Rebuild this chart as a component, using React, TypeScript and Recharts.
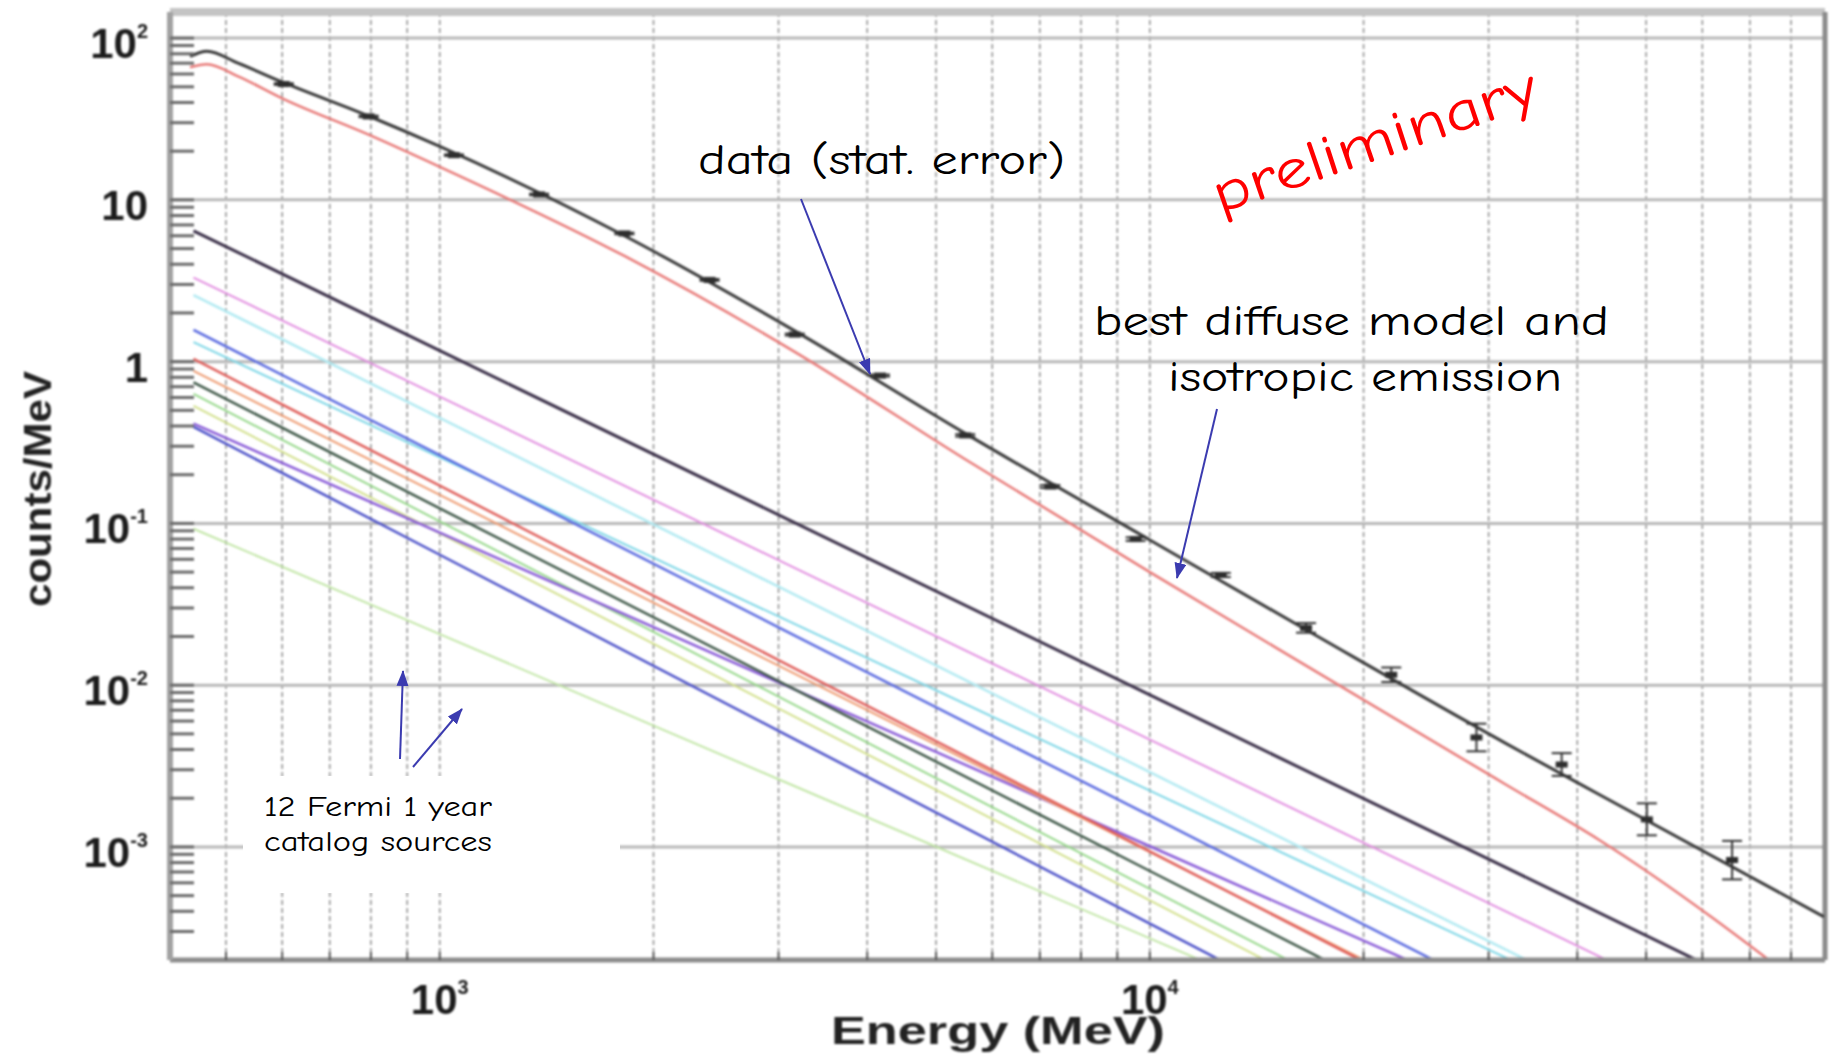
import React from "react"
import {
  ComposedChart,
  Line,
  Scatter,
  ErrorBar,
  XAxis,
  YAxis,
  CartesianGrid,
  ReferenceLine,
} from "recharts"

// measured counts per energy bin (MeV) with statistical errors
const ENERGY_BINS = [603, 794, 1047, 1380, 1820, 2399, 3162, 4169, 5495, 7244, 9550, 12589, 16596, 21878, 28840, 38019, 50119, 66069]
const COUNTS = [52, 32.8, 18.9, 10.8, 6.2, 3.2, 1.47, 0.82, 0.35, 0.169, 0.08, 0.048, 0.0226, 0.0116, 0.00475, 0.00323, 0.00148, 0.00083]
const ERR_LOW = [0.6, 0.35, 0.2, 0.12, 0.07, 0.04, 0.02, 0.012, 0.006, 0.0035, 0.002, 0.0014, 0.0015, 0.00114, 0.00085, 0.00048, 0.0003, 0.0002]
const ERR_HIGH = [0.6, 0.35, 0.2, 0.12, 0.07, 0.04, 0.02, 0.012, 0.006, 0.0035, 0.002, 0.0014, 0.0016, 0.00126, 0.00103, 0.00057, 0.00038, 0.00026]

// total fitted model and diffuse + isotropic component
const MODEL_ENERGY = [445, 470, 520, 603, 794, 1000, 1820, 3162, 5495, 10000, 16596, 31623, 43000, 89000]
const TOTAL_MODEL = [77, 83, 70, 53, 33, 21.4, 6.0, 1.55, 0.36, 0.079, 0.022, 0.0044, 0.0021, 0.00037]
const DIFFUSE_MODEL = [66, 69, 58, 42, 25.3, 16.0, 4.5, 1.15, 0.249, 0.05, 0.0132, 0.00245, 0.0011, 0.00011]

// catalog point sources, sampled at the same energies
const SOURCE_ENERGY = [450, 1000, 3000, 10000, 30000, 90000]
const SRC_BRIGHT = [6.44, 1.17, 0.113, 0.0087, 0.00084, 0.000081]
const SRC_MAGENTA = [3.31, 0.608, 0.0593, 0.00461, 0.00045, 0.0000439]
const SRC_LIGHTCYAN = [2.58, 0.449, 0.0406, 0.0029, 0.000262, 0.0000236]
const SRC_BLUE = [1.57, 0.264, 0.0228, 0.00156, 0.000134, 0.0000116]
const SRC_CYAN = [1.32, 0.256, 0.0266, 0.00223, 0.000232, 0.0000241]
const SRC_RED = [1.04, 0.171, 0.0143, 0.00094, 0.000078, 0.0000065]
const SRC_ORANGE = [0.877, 0.15, 0.0132, 0.00093, 0.000082, 0.0000072]
const SRC_DARKGREEN = [0.745, 0.124, 0.0106, 0.00071, 0.000061, 0.0000052]
const SRC_GREEN = [0.631, 0.103, 0.0085, 0.00055, 0.000046, 0.0000038]
const SRC_OLIVE = [0.533, 0.0869, 0.00718, 0.000467, 0.0000385, 0.0000032]
const SRC_PURPLE = [0.414, 0.0877, 0.0104, 0.00101, 0.00012, 0.0000142]
const SRC_INDIGO = [0.395, 0.064, 0.00522, 0.000336, 0.0000274, 0.0000022]
const SRC_PALEGREEN = [0.0927, 0.0207, 0.00262, 0.000272, 0.0000345, 0.0000044]

const SOURCES = [
  { values: SRC_PALEGREEN, color: "#c2e6a6", width: 2 },
  { values: SRC_OLIVE, color: "#d2e08c", width: 2 },
  { values: SRC_GREEN, color: "#96d88a", width: 2 },
  { values: SRC_LIGHTCYAN, color: "#b2eaf2", width: 2.5 },
  { values: SRC_CYAN, color: "#7cd6e6", width: 2 },
  { values: SRC_MAGENTA, color: "#e28ee0", width: 2 },
  { values: SRC_PURPLE, color: "#8a5cd8", width: 2.5 },
  { values: SRC_ORANGE, color: "#ee9a70", width: 2 },
  { values: SRC_RED, color: "#e0605c", width: 2.5 },
  { values: SRC_BLUE, color: "#5a6ae0", width: 2.5 },
  { values: SRC_INDIGO, color: "#4b50c8", width: 2.5 },
  { values: SRC_DARKGREEN, color: "#3f5848", width: 2.5 },
  { values: SRC_BRIGHT, color: "#3a2f48", width: 3 },
]

const X_DOMAIN = [417, 89300]
const Y_DOMAIN = [0.0002, 145]
const X_TICKS = [500, 600, 700, 800, 900, 1000, 2000, 3000, 4000, 5000, 6000, 7000, 8000, 9000, 10000, 20000, 30000, 40000, 50000, 60000, 70000, 80000]
const X_LABELED = [1000, 10000]
const Y_DECADES = [0.0001, 0.001, 0.01, 0.1, 1, 10, 100]
const Y_STEPS = [1, 2, 3, 4, 5, 6, 7, 8, 9]

const yTicks = Y_DECADES.flatMap((d) => Y_STEPS.map((m) => m * d)).filter(
  (v) => v > Y_DOMAIN[0] * 1.01 && v < Y_DOMAIN[1]
)

const rows = (xs: number[], ys: number[]) => xs.map((e, i) => ({ e, v: ys[i] }))

const dataPoints = ENERGY_BINS.map((e, i) => ({ e, v: COUNTS[i], err: [ERR_LOW[i], ERR_HIGH[i]] }))

const TICK_FONT = "'Liberation Sans', Arial, sans-serif"
const NOTE_FONT = "'Comic Sans MS', 'Comic Neue', 'Noto Sans', sans-serif"

const powerLabel = (v: number) => {
  const exp = Math.round(Math.log10(v))
  if (exp === 0) return { base: "1", exp: "" }
  if (exp === 1) return { base: "10", exp: "" }
  return { base: "10", exp: String(exp) }
}

const isDecade = (v: number) => Math.abs(Math.log10(v) - Math.round(Math.log10(v))) < 1e-6

const YTick = (props: any) => {
  const { x, y, payload } = props
  const v = payload.value
  const major = isDecade(v)
  const lbl = powerLabel(v)
  return (
    <g>
      <line x1={x} x2={x + 24} y1={y} y2={y} stroke="#6a6a6a" strokeWidth={3} />
      {major && (
        <text x={x - 22} y={y + 20} textAnchor="end" fontFamily={TICK_FONT} fontWeight="bold" fontSize={42} fill="#1c1c1c">
          {lbl.base}
          {lbl.exp && (
            <tspan dy={-20} fontSize={20}>
              {lbl.exp}
            </tspan>
          )}
        </text>
      )}
    </g>
  )
}

const XTick = (props: any) => {
  const { x, y, payload } = props
  const v = payload.value
  const lbl = powerLabel(v)
  return (
    <g>
      <line x1={x} x2={x} y1={y} y2={y - 8} stroke="#555" strokeWidth={2} />
      {X_LABELED.includes(v) && (
        <text x={x} y={y + 54} textAnchor="middle" fontFamily={TICK_FONT} fontWeight="bold" fontSize={42} fill="#1c1c1c">
          {lbl.base}
          <tspan dy={-20} fontSize={20}>
            {lbl.exp}
          </tspan>
        </text>
      )}
    </g>
  )
}

const DataMark = (props: any) => {
  const { cx, cy } = props
  return <rect x={cx - 6} y={cy - 3} width={12} height={6} fill="#2e2e2e" />
}

const Arrow = ({ x1, y1, x2, y2 }: { x1: number; y1: number; x2: number; y2: number }) => (
  <line x1={x1} y1={y1} x2={x2} y2={y2} stroke="#3b3bb0" strokeWidth={2} markerEnd="url(#noteHead)" />
)

export default function App() {
  return (
    <div style={{ position: "fixed", left: 0, top: 0, width: 1831, height: 1056, background: "#fff", overflow: "hidden" }}>
      <div style={{ position: "absolute", left: 0, top: 0, filter: "blur(0.8px)" }}>
        <ComposedChart width={1831} height={1056} margin={{ top: 12, right: 6, bottom: 0, left: 0 }}>
          <CartesianGrid horizontal={false} stroke="#8e8e8e" strokeWidth={1.5} strokeDasharray="5 3" />
          {Y_DECADES.filter((d) => d > Y_DOMAIN[0] && d < Y_DOMAIN[1]).map((d) => (
            <ReferenceLine key={d} y={d} stroke="#b8b8b8" strokeWidth={3} />
          ))}
          <ReferenceLine y={Y_DOMAIN[1]} stroke="#c4c4c4" strokeWidth={8} />
          <ReferenceLine x={X_DOMAIN[1]} stroke="#8a8a8a" strokeWidth={5} />
          <XAxis
            dataKey="e"
            type="number"
            scale="log"
            domain={X_DOMAIN}
            allowDataOverflow
            ticks={X_TICKS}
            interval={0}
            tickSize={0}
            tickMargin={0}
            tick={<XTick />}
            height={96}
            axisLine={{ stroke: "#8c8c8c", strokeWidth: 5 }}
          />
          <YAxis
            type="number"
            scale="log"
            domain={Y_DOMAIN}
            allowDataOverflow
            ticks={yTicks}
            interval={0}
            tickSize={0}
            tickMargin={0}
            tick={<YTick />}
            width={170}
            axisLine={{ stroke: "#a2a2a2", strokeWidth: 6 }}
          />
          {SOURCES.map((s, i) => (
            <Line
              key={i}
              data={rows(SOURCE_ENERGY, s.values)}
              dataKey="v"
              type="linear"
              stroke={s.color}
              strokeWidth={s.width}
              dot={false}
              isAnimationActive={false}
            />
          ))}
          <Line data={rows(MODEL_ENERGY, DIFFUSE_MODEL)} dataKey="v" type="monotone" stroke="#e87a78" strokeWidth={2.5} dot={false} isAnimationActive={false} />
          <Line data={rows(MODEL_ENERGY, TOTAL_MODEL)} dataKey="v" type="monotone" stroke="#3a3a3a" strokeWidth={3} dot={false} isAnimationActive={false} />
          <Scatter data={dataPoints} dataKey="v" shape={<DataMark />} isAnimationActive={false}>
            <ErrorBar dataKey="err" direction="y" width={10} stroke="#333" strokeWidth={2} isAnimationActive={false} />
          </Scatter>
        </ComposedChart>
        <svg width={1831} height={1056} style={{ position: "absolute", left: 0, top: 0 }}>
          <text x={998} y={1044} textAnchor="middle" fontFamily={TICK_FONT} fontWeight="bold" fontSize={38} fill="#222" textLength={334} lengthAdjust="spacingAndGlyphs">
            Energy (MeV)
          </text>
          <text
            x={38}
            y={502}
            transform="rotate(-90 38 489)"
            textAnchor="middle"
            fontFamily={TICK_FONT}
            fontWeight="bold"
            fontSize={38}
            fill="#222"
            textLength={236}
            lengthAdjust="spacingAndGlyphs"
          >
            counts/MeV
          </text>
        </svg>
      </div>
      <svg width={1831} height={1056} style={{ position: "absolute", left: 0, top: 0 }}>
        <defs>
          <marker id="noteHead" viewBox="0 0 16 12" refX={15} refY={6} markerWidth={16} markerHeight={12} markerUnits="userSpaceOnUse" orient="auto">
            <path d="M0,0 L16,6 L0,12 z" fill="#3b3bb0" />
          </marker>
        </defs>
        <rect x={243} y={776} width={377} height={117} fill="#fff" />
        <text x={698} y={174} fontFamily={NOTE_FONT} fontSize={42} fill="#000" textLength={367} lengthAdjust="spacingAndGlyphs">
          data (stat. error)
        </text>
        <text x={1094} y={335} fontFamily={NOTE_FONT} fontSize={42} fill="#000" textLength={515} lengthAdjust="spacingAndGlyphs">
          best diffuse model and
        </text>
        <text x={1168} y={391} fontFamily={NOTE_FONT} fontSize={42} fill="#000" textLength={394} lengthAdjust="spacingAndGlyphs">
          isotropic emission
        </text>
        <text
          x={1220}
          y={214}
          transform="rotate(-19 1220 214)"
          fontFamily={NOTE_FONT}
          fontSize={58}
          fill="#ff0000"
          textLength={340}
          lengthAdjust="spacingAndGlyphs"
        >
          preliminary
        </text>
        <text x={264} y={816} fontFamily={NOTE_FONT} fontSize={29} fill="#000" textLength={228} lengthAdjust="spacingAndGlyphs">
          12 Fermi 1 year
        </text>
        <text x={264} y={851} fontFamily={NOTE_FONT} fontSize={29} fill="#000" textLength={228} lengthAdjust="spacingAndGlyphs">
          catalog sources
        </text>
        <Arrow x1={801} y1={199} x2={870} y2={374} />
        <Arrow x1={1217} y1={409} x2={1177} y2={578} />
        <Arrow x1={400} y1={759} x2={403} y2={671} />
        <Arrow x1={413} y1={767} x2={462} y2={709} />
      </svg>
    </div>
  )
}
